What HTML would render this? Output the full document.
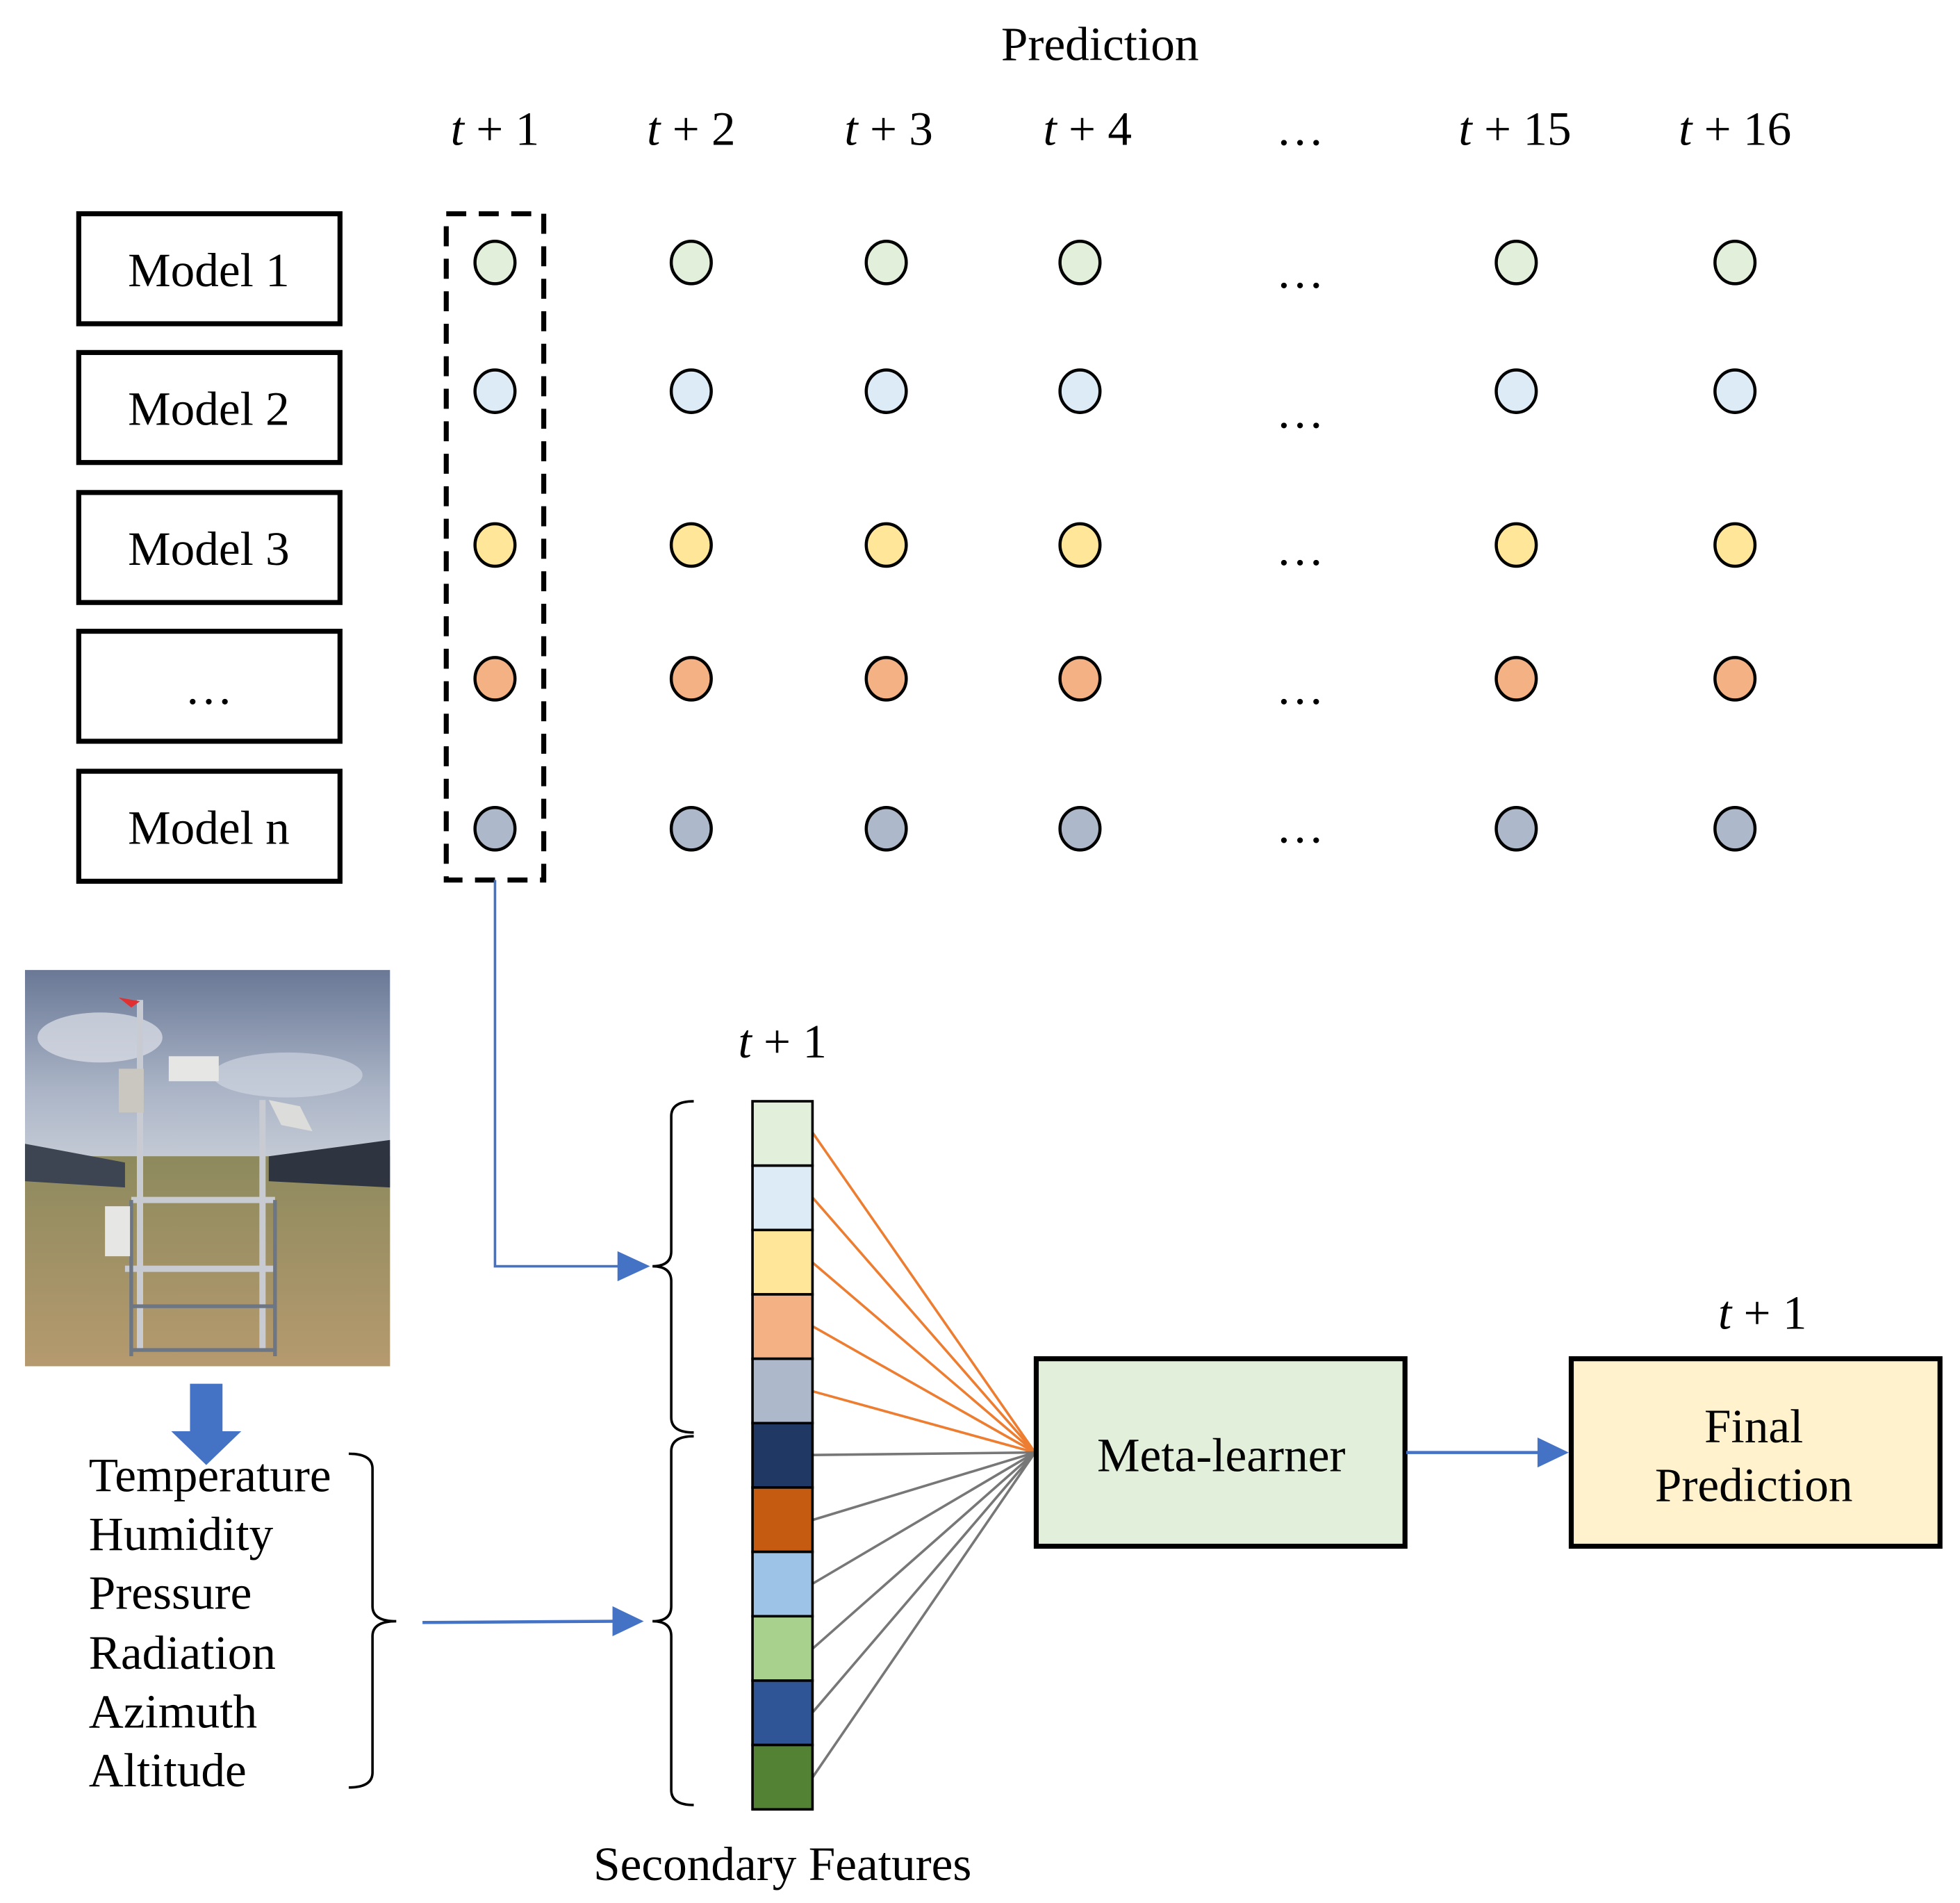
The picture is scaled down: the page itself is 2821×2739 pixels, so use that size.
<!DOCTYPE html>
<html><head><meta charset="utf-8"><style>
html,body{margin:0;padding:0;background:#fff;}
svg{display:block;}
text{font-family:"Liberation Serif",serif;fill:#000;}
</style></head><body>
<svg width="2821" height="2739" viewBox="0 0 1568 1522.4" xmlns="http://www.w3.org/2000/svg">
<defs>
<linearGradient id="sky" x1="0" y1="0" x2="0" y2="1">
<stop offset="0" stop-color="#6a7896"/><stop offset="0.3" stop-color="#aab4c6"/><stop offset="0.5" stop-color="#c8ced8"/><stop offset="1" stop-color="#d0d2d6"/>
</linearGradient>
<linearGradient id="ground" x1="0" y1="0" x2="0" y2="1">
<stop offset="0" stop-color="#8d8a5e"/><stop offset="1" stop-color="#b59a6e"/>
</linearGradient>
</defs>

<text x="880" y="48" font-size="38.5" text-anchor="middle">Prediction</text>
<g font-size="38.5" text-anchor="middle">
<text x="396" y="116"><tspan font-style="italic">t</tspan> + 1</text>
<text x="553" y="116"><tspan font-style="italic">t</tspan> + 2</text>
<text x="711" y="116"><tspan font-style="italic">t</tspan> + 3</text>
<text x="870" y="116"><tspan font-style="italic">t</tspan> + 4</text>
<text x="1040" y="116">…</text>
<text x="1212" y="116"><tspan font-style="italic">t</tspan> + 15</text>
<text x="1388" y="116"><tspan font-style="italic">t</tspan> + 16</text>
</g>

<g fill="#fff" stroke="#000" stroke-width="4">
<rect x="63" y="171" width="209" height="88"/>
<rect x="63" y="282" width="209" height="88"/>
<rect x="63" y="394" width="209" height="88"/>
<rect x="63" y="505" width="209" height="88"/>
<rect x="63" y="617" width="209" height="88"/>
</g>
<g font-size="38.5" text-anchor="middle">
<text x="167" y="229">Model 1</text>
<text x="167" y="340">Model 2</text>
<text x="167" y="452">Model 3</text>
<text x="167" y="563">…</text>
<text x="167" y="675">Model n</text>
</g>

<rect x="357" y="171" width="78" height="533" fill="none" stroke="#000" stroke-width="4" stroke-dasharray="16,10"/>

<g stroke="#000" stroke-width="2.5">
<g fill="#e2efda"><ellipse cx="396" cy="210" rx="16" ry="17"/><ellipse cx="553" cy="210" rx="16" ry="17"/><ellipse cx="709" cy="210" rx="16" ry="17"/><ellipse cx="864" cy="210" rx="16" ry="17"/><ellipse cx="1213" cy="210" rx="16" ry="17"/><ellipse cx="1388" cy="210" rx="16" ry="17"/></g>
<g fill="#ddebf7"><ellipse cx="396" cy="313" rx="16" ry="17"/><ellipse cx="553" cy="313" rx="16" ry="17"/><ellipse cx="709" cy="313" rx="16" ry="17"/><ellipse cx="864" cy="313" rx="16" ry="17"/><ellipse cx="1213" cy="313" rx="16" ry="17"/><ellipse cx="1388" cy="313" rx="16" ry="17"/></g>
<g fill="#ffe699"><ellipse cx="396" cy="436" rx="16" ry="17"/><ellipse cx="553" cy="436" rx="16" ry="17"/><ellipse cx="709" cy="436" rx="16" ry="17"/><ellipse cx="864" cy="436" rx="16" ry="17"/><ellipse cx="1213" cy="436" rx="16" ry="17"/><ellipse cx="1388" cy="436" rx="16" ry="17"/></g>
<g fill="#f4b183"><ellipse cx="396" cy="543" rx="16" ry="17"/><ellipse cx="553" cy="543" rx="16" ry="17"/><ellipse cx="709" cy="543" rx="16" ry="17"/><ellipse cx="864" cy="543" rx="16" ry="17"/><ellipse cx="1213" cy="543" rx="16" ry="17"/><ellipse cx="1388" cy="543" rx="16" ry="17"/></g>
<g fill="#adb9ca"><ellipse cx="396" cy="663" rx="16" ry="17"/><ellipse cx="553" cy="663" rx="16" ry="17"/><ellipse cx="709" cy="663" rx="16" ry="17"/><ellipse cx="864" cy="663" rx="16" ry="17"/><ellipse cx="1213" cy="663" rx="16" ry="17"/><ellipse cx="1388" cy="663" rx="16" ry="17"/></g>
</g>
<g font-size="38.5" text-anchor="middle">
<text x="1040" y="230">…</text><text x="1040" y="342">…</text><text x="1040" y="452">…</text><text x="1040" y="563">…</text><text x="1040" y="674">…</text>
</g>

<polyline points="396,704 396,1013 497,1013" fill="none" stroke="#4472c4" stroke-width="2"/>
<polygon points="494,1001 520,1013 494,1025" fill="#4472c4"/>

<!-- photo -->
<rect x="20" y="776" width="292" height="317" fill="url(#sky)"/>
<ellipse cx="80" cy="830" rx="50" ry="20" fill="#dfe3ea" opacity="0.7"/>
<ellipse cx="230" cy="860" rx="60" ry="18" fill="#d6dbe4" opacity="0.6"/>
<rect x="20" y="925" width="292" height="168" fill="url(#ground)"/>
<polygon points="20,915 100,930 100,950 20,945" fill="#3d4452"/>
<polygon points="312,912 215,925 215,945 312,950" fill="#2f3540"/>
<g stroke="#c8ccd2" stroke-width="5" fill="none">
<line x1="112" y1="800" x2="112" y2="1080"/><line x1="210" y1="880" x2="210" y2="1080"/>
<line x1="105" y1="960" x2="220" y2="960"/><line x1="100" y1="1015" x2="220" y2="1015"/>
</g>
<g stroke="#6d7684" stroke-width="3" fill="none">
<line x1="105" y1="960" x2="105" y2="1085"/><line x1="220" y1="960" x2="220" y2="1085"/>
<line x1="105" y1="1045" x2="220" y2="1045"/><line x1="105" y1="1080" x2="220" y2="1080"/>
</g>
<rect x="95" y="855" width="20" height="35" fill="#c9c7c0"/>
<rect x="135" y="845" width="40" height="20" fill="#e6e6e4"/>
<rect x="84" y="965" width="20" height="40" fill="#e6e6e4"/>
<polygon points="215,880 240,885 250,905 225,900" fill="#dcdcda"/>
<polygon points="95,798 112,801 105,806" fill="#e03030"/>

<rect x="152" y="1107" width="26" height="40" fill="#4472c4"/>
<polygon points="137,1145 193,1145 165,1172" fill="#4472c4"/>

<g font-size="38.5">
<text x="71" y="1193">Temperature</text>
<text x="71" y="1240">Humidity</text>
<text x="71" y="1287">Pressure</text>
<text x="71" y="1335">Radiation</text>
<text x="71" y="1382">Azimuth</text>
<text x="71" y="1429">Altitude</text>
</g>
<path d="M279,1163 Q298,1163 298,1175 L298,1285 Q298,1297 317,1297 Q298,1297 298,1309 L298,1418 Q298,1430 279,1430" fill="none" stroke="#000" stroke-width="2"/>

<line x1="338" y1="1298" x2="492" y2="1297" stroke="#4472c4" stroke-width="2.5"/>
<polygon points="490,1285 515,1297 490,1309" fill="#4472c4"/>

<path d="M555,881 Q537,881 537,893 L537,1001 Q537,1013 522,1013 Q537,1013 537,1025 L537,1134 Q537,1146 555,1146" fill="none" stroke="#000" stroke-width="2"/>
<path d="M555,1149 Q537,1149 537,1161 L537,1285 Q537,1297 522,1297 Q537,1297 537,1309 L537,1432 Q537,1444 555,1444" fill="none" stroke="#000" stroke-width="2"/>

<text x="626" y="846" font-size="38.5" text-anchor="middle"><tspan font-style="italic">t</tspan> + 1</text>

<g stroke="#ed7d31" stroke-width="2">
<line x1="650" y1="906" x2="828" y2="1162"/><line x1="650" y1="958" x2="828" y2="1162"/><line x1="650" y1="1010" x2="828" y2="1162"/><line x1="650" y1="1061" x2="828" y2="1162"/><line x1="650" y1="1113" x2="828" y2="1162"/>
</g>
<g stroke="#777" stroke-width="2">
<line x1="650" y1="1164" x2="828" y2="1162"/><line x1="650" y1="1216" x2="828" y2="1162"/><line x1="650" y1="1267" x2="828" y2="1162"/><line x1="650" y1="1319" x2="828" y2="1162"/><line x1="650" y1="1370" x2="828" y2="1162"/><line x1="650" y1="1422" x2="828" y2="1162"/>
</g>

<g stroke="#000" stroke-width="2">
<rect x="602" y="881" width="48" height="51.5" fill="#e2efda"/>
<rect x="602" y="932.5" width="48" height="51.5" fill="#ddebf7"/>
<rect x="602" y="984" width="48" height="51.5" fill="#ffe699"/>
<rect x="602" y="1035.5" width="48" height="51.5" fill="#f4b183"/>
<rect x="602" y="1087" width="48" height="51.5" fill="#adb9ca"/>
<rect x="602" y="1138.5" width="48" height="51.5" fill="#203864"/>
<rect x="602" y="1190" width="48" height="51.5" fill="#c55a11"/>
<rect x="602" y="1241.5" width="48" height="51.5" fill="#9dc3e6"/>
<rect x="602" y="1293" width="48" height="51.5" fill="#a9d18e"/>
<rect x="602" y="1344.5" width="48" height="51.5" fill="#2f5597"/>
<rect x="602" y="1396" width="48" height="51.5" fill="#548235"/>
</g>
<text x="626" y="1504" font-size="38.5" text-anchor="middle">Secondary Features</text>

<rect x="829" y="1087" width="295" height="150" fill="#e2efda" stroke="#000" stroke-width="4"/>
<text x="977" y="1177" font-size="38.5" text-anchor="middle">Meta-learner</text>

<line x1="1125" y1="1162" x2="1232" y2="1162" stroke="#4472c4" stroke-width="2.5"/>
<polygon points="1230,1150 1255,1162 1230,1174" fill="#4472c4"/>

<text x="1410" y="1063" font-size="38.5" text-anchor="middle"><tspan font-style="italic">t</tspan> + 1</text>
<rect x="1257" y="1087" width="295" height="150" fill="#fff2cc" stroke="#000" stroke-width="4"/>
<text x="1403" y="1154" font-size="38.5" text-anchor="middle">Final</text>
<text x="1403" y="1201" font-size="38.5" text-anchor="middle">Prediction</text>
</svg>
</body></html>
